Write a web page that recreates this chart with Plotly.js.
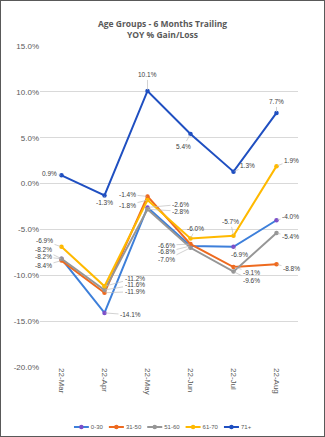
<!DOCTYPE html>
<html>
<head>
<meta charset="utf-8">
<script src="https://cdn.plot.ly/plotly-3.0.1.min.js"></script>
<style>
html,body{margin:0;padding:0;background:#fff;}
#frame{width:325px;height:437px;box-sizing:border-box;border:1px solid #595959;overflow:hidden;}
#chart{width:323px;height:435px;}
</style>
</head>
<body>
<div id="frame"><div id="chart"></div></div>
<script>
const months = ["22-Mar","22-Apr","22-May","22-Jun","22-Jul","22-Aug"];
const seriesNames = ["0-30","31-50","51-60","61-70","71+"];
const age0_30  = [-8.2, -14.1, -2.6, -6.8, -6.9, -4.0];
const age31_50 = [-8.4, -11.9, -1.4, -6.6, -9.1, -8.8];
const age51_60 = [-8.2, -11.6, -2.8, -7.0, -9.6, -5.4];
const age61_70 = [-6.9, -11.2, -1.8, -6.0, -5.7, 1.9];
const age71p   = [0.9, -1.3, 10.1, 5.4, 1.3, 7.7];
const yTicks = [15, 10, 5, 0, -5, -10, -15, -20];

const allValues = [age0_30, age31_50, age51_60, age61_70, age71p];
const lineColors = ["#3D7FDA", "#EE6A1F", "#969696", "#FFB900", "#1F4FC1"];
const markerColors = ["#7B4FC9", "#EE6A1F", "#969696", "#FFB900", "#1F4FC1"];

// label offsets (pixels) per series per month
const offsets = [
  [[-18,-2],[26,2],[33,-3],[-24,6],[6,8],[14,-4]],
  [[-18,5],[30,-1],[-20,-2],[-24,1],[18,5],[15,4]],
  [[-18,-9],[30,-5],[33,2],[-24,12],[18,9],[14,3]],
  [[-17,-6],[30,-8],[-20,5],[5,-10],[-3,-14],[15,-6]],
  [[-12,-2],[0,7],[0,-16],[-7,12],[14,-6],[0,-11]]
];

const traces = allValues.map((vals, i) => ({
  x: months, y: vals, name: seriesNames[i], type: "scatter", mode: "lines+markers",
  line: {color: lineColors[i], width: 2},
  marker: {color: markerColors[i], size: 4.5, symbol: "circle"},
  hoverinfo: "skip"
}));

const annotations = [];
allValues.forEach((vals, i) => {
  vals.forEach((v, j) => {
    annotations.push({
      x: months[j], y: v, xref: "x", yref: "y",
      text: v.toFixed(1) + "%",
      showarrow: true, arrowhead: 0, arrowwidth: 0.7, arrowcolor: "#BFBFBF",
      ax: offsets[i][j][0], ay: offsets[i][j][1], standoff: 1,
      font: {family: "Liberation Sans, Arial, sans-serif", size: 6.5, color: "#404040"}
    });
  });
});

const W = 323, H = 435;
const layout = {
  width: W, height: H,
  margin: {l: 39, r: 26, t: 45, b: 69},
  paper_bgcolor: "#fff", plot_bgcolor: "#fff",
  title: {
    text: "<b>Age Groups - 6 Months Trailing<br>YOY % Gain/Loss</b>",
    font: {family: "Open Sans, Liberation Sans, sans-serif", size: 8.5, color: "#595959"},
    x: 0.5, xanchor: "center", y: 0.94, yref: "container", yanchor: "middle"
  },
  xaxis: {
    type: "category", tickangle: 90, range: [-0.5, 5.5], automargin: false,
    showgrid: false, showline: false, ticks: "",
    tickfont: {family: "Liberation Sans, Arial, sans-serif", size: 8, color: "#595959"},
    fixedrange: true
  },
  yaxis: {
    range: [-20, 15], tickvals: yTicks, ticktext: yTicks.map(t => t.toFixed(1) + "%"),
    showgrid: true, gridcolor: "#D9D9D9", gridwidth: 1, automargin: false,
    zeroline: true, zerolinecolor: "#D9D9D9", zerolinewidth: 1,
    showline: false, ticks: "",
    tickfont: {family: "Liberation Sans, Arial, sans-serif", size: 8, color: "#595959"},
    fixedrange: true
  },
  legend: {
    orientation: "h", x: 0.5, xanchor: "center", xref: "container",
    y: 0.022, yanchor: "middle", yref: "container",
    font: {family: "Liberation Sans, Arial, sans-serif", size: 6, color: "#595959"},
    itemwidth: 30, tracegroupgap: 0, itemclick: false, bgcolor: "rgba(0,0,0,0)"
  },
  annotations: annotations,
  showlegend: true
};

Plotly.newPlot("chart", traces, layout, {displayModeBar: false, staticPlot: true}).then(gd => {
  // compact the legend into one row with short symbols (as in the reference)
  const leg = gd.querySelector("g.legend");
  if (!leg) return;
  const items = Array.from(leg.querySelectorAll("g.traces"));
  if (!items.length) return;
  const m = /translate\(\s*([-\d.]+)[ ,]+([-\d.]+)/.exec(items[0].getAttribute("transform") || "");
  const y0 = m ? parseFloat(m[2]) : 0;
  const lineLen = 15, gap = 6;
  let x = 0;
  items.forEach(it => {
    it.querySelectorAll(".legendlines path").forEach(p => p.setAttribute("d", "M0,0h" + lineLen));
    it.querySelectorAll(".legendpoints path").forEach(p => p.setAttribute("transform", "translate(" + (lineLen / 2) + ",0)"));
    const t = it.querySelector("text.legendtext");
    t.setAttribute("x", lineLen + 2);
    const w = lineLen + 2 + t.getComputedTextLength();
    it.setAttribute("transform", "translate(" + x + "," + y0 + ")");
    x += w + gap;
  });
  const total = x - gap;
  leg.setAttribute("transform", "translate(" + ((W - total) / 2) + "," + (426 - y0) + ")");
  leg.querySelectorAll("clipPath rect, rect.bg").forEach(r => { r.setAttribute("width", total + 20); });
  const clips = gd.querySelectorAll("defs clipPath[id*='legend'] rect");
  clips.forEach(r => { r.setAttribute("width", total + 20); r.setAttribute("height", 40); });
});
</script>
</body>
</html>
